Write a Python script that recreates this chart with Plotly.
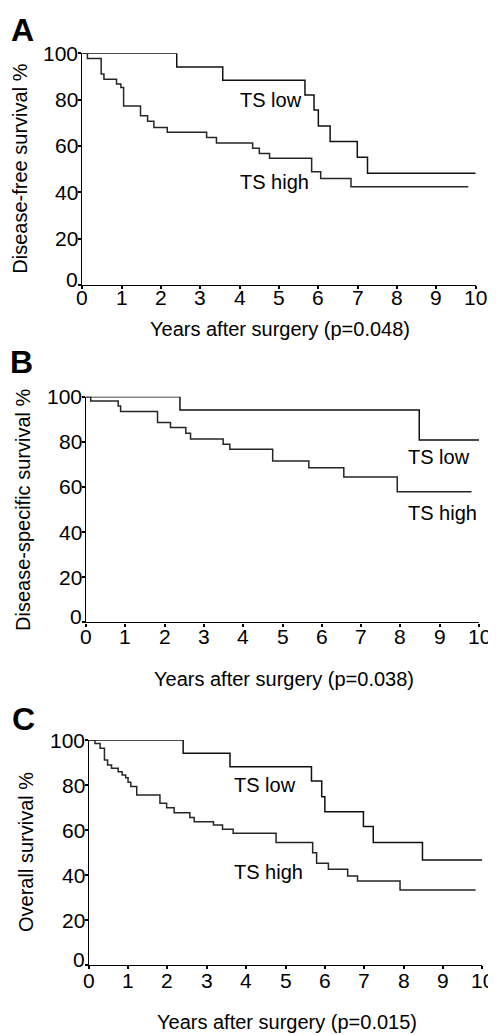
import plotly.graph_objects as go

# The page body keeps its default 8px margin, so the figure starts at (8, 8) in the
# 496x1035 window; positions below are window pixels and are shifted by that offset.
OFF = 8
W, H = 496, 1035

# ---- Data ----
a_low_t = [0, 2.40, 3.57, 5.66, 5.89, 6.00, 6.30, 6.99, 7.25, 10.0]
a_low_s = [100, 94.1, 88.4, 82.0, 75.5, 68.6, 61.9, 55.1, 48.2, 48.2]
a_high_t = [0, 0.13, 0.48, 0.55, 0.87, 0.98, 1.05, 1.48, 1.66, 1.82, 2.16, 3.16, 3.41,
            4.33, 4.50, 4.76, 5.83, 6.06, 6.83, 9.81]
a_high_s = [100, 97.8, 91.1, 88.8, 86.8, 85.2, 77.3, 73.0, 70.7, 68.0, 65.9, 63.7, 61.3,
            59.0, 56.8, 54.7, 48.9, 46.0, 42.4, 42.4]

b_low_t = [0, 2.39, 8.48, 10.0]
b_low_s = [100, 94.1, 80.8, 80.8]
b_high_t = [0, 0.12, 0.82, 0.88, 1.82, 2.15, 2.54, 2.66, 3.49, 3.66, 4.75, 5.67, 6.56, 7.92, 9.81]
b_high_s = [100, 98.1, 95.9, 93.4, 88.6, 86.3, 83.8, 81.2, 78.9, 76.7, 71.5, 68.5, 64.4, 57.9, 57.9]

c_low_t = [0, 2.40, 3.59, 5.66, 5.92, 6.00, 6.98, 7.23, 8.48, 10.0]
c_low_s = [100, 94.1, 88.1, 81.8, 74.8, 68.1, 61.5, 54.4, 46.7, 46.7]
c_high_t = [0, 0.16, 0.29, 0.40, 0.48, 0.58, 0.75, 0.85, 0.94, 1.00, 1.07, 1.22, 1.81, 1.98,
            2.17, 2.57, 2.68, 3.17, 3.40, 3.67, 4.76, 5.69, 5.79, 6.09, 6.58, 6.83, 7.91, 9.83]
c_high_s = [100, 98.5, 96.3, 91.1, 88.9, 87.4, 85.9, 84.4, 83.2, 81.2, 79.3, 75.6, 71.9, 69.9,
            67.7, 65.6, 63.7, 62.2, 60.3, 58.5, 54.4, 49.9, 45.2, 42.5, 39.6, 37.3, 33.3, 33.3]

x_ticks = list(range(0, 11))
y_ticks = [0, 20, 40, 60, 80, 100]

panel_letters = ["A", "B", "C"]
y_titles = ["Disease-free survival %", "Disease-specific survival %", "Overall survival %"]
x_titles = ["Years after surgery (p=0.048)", "Years after surgery (p=0.038)",
            "Years after surgery (p=0.015)"]
group_labels = ["TS low", "TS high"]
label_pos = [((3.97, 80.0), (3.97, 44.6)), ((8.14, 73.4), (8.14, 48.3)), ((3.65, 80.0), (3.65, 41.5))]

# ---- Layout geometry (window pixels) ----
# (x0, x1, y_top(100%), y_bottom(0%))
boxes = [(82.3, 475.7, 53.3, 285.0), (86.0, 479.0, 396.7, 622.3), (88.7, 482.3, 740.0, 965.0)]
letter_xy = [(22.5, 30.5), (21.5, 361.5), (23.5, 719)]
ytitle_x = [20.5, 22.5, 25.5]
xtitle_y = [329, 679, 1022]
xtick_label_y = [297, 636, 980]
ytick_gap = 4.0              # px between axis line and right edge of y tick labels
ytick_label_shift = [6, 0, 0, 0, 0, 0]   # "0" sits a little above the axis corner

FONT = "Liberation Sans, Arial, sans-serif"
TXT = dict(family=FONT, size=20, color="black")
TICK = dict(family=FONT, size=21, color="black")


def px(x):
    return (x - OFF) / W


def py(y):
    return 1 - (y - OFF) / H


series = [
    (a_low_t, a_low_s, a_high_t, a_high_s),
    (b_low_t, b_low_s, b_high_t, b_high_s),
    (c_low_t, c_low_s, c_high_t, c_high_s),
]

fig = go.Figure()
annotations = []
layout = {}
for i, (lt, ls, ht, hs) in enumerate(series):
    sfx = "" if i == 0 else str(i + 1)
    xa, ya = "x" + sfx, "y" + sfx
    fig.add_trace(go.Scatter(x=lt, y=ls, mode="lines", line=dict(shape="hv", color="#111111", width=1.5),
                             xaxis=xa, yaxis=ya, showlegend=False, hoverinfo="skip"))
    fig.add_trace(go.Scatter(x=ht, y=hs, mode="lines", line=dict(shape="hv", color="#262626", width=1.5),
                             xaxis=xa, yaxis=ya, showlegend=False, hoverinfo="skip"))
    x0, x1, yt, yb = boxes[i]
    layout["xaxis" + sfx] = dict(
        domain=[px(x0), px(x1)], range=[0, 10], anchor=ya, tickmode="array", tickvals=x_ticks,
        ticks="outside", ticklen=3, tickwidth=1.5, tickcolor="black", showticklabels=False,
        showline=True, linecolor="black", linewidth=1.4, showgrid=False, zeroline=False,
        fixedrange=True)
    layout["yaxis" + sfx] = dict(
        domain=[py(yb), py(yt)], range=[0, 100], anchor=xa, tickmode="array", tickvals=y_ticks,
        ticks="outside", ticklen=3, tickwidth=1.5, tickcolor="black", showticklabels=False,
        showline=True, linecolor="black", linewidth=1.4, showgrid=False, zeroline=False,
        fixedrange=True)
    # x tick labels (placed through the x axis scale)
    for t in x_ticks:
        annotations.append(dict(text=str(t), x=t, xref=xa, y=py(xtick_label_y[i]), yref="paper",
                                xanchor="center", yanchor="middle", showarrow=False, font=TICK))
    # y tick labels (placed through the y axis scale)
    for t, sh in zip(y_ticks, ytick_label_shift):
        annotations.append(dict(text=str(t), x=px(x0 - ytick_gap + 2), xref="paper", y=t, yref=ya,
                                xanchor="right", yanchor="middle", yshift=sh, showarrow=False,
                                font=TICK))
    # panel letter
    lx, ly = letter_xy[i]
    annotations.append(dict(text="<b>%s</b>" % panel_letters[i], x=px(lx), y=py(ly), xref="paper",
                            yref="paper", xanchor="center", yanchor="middle", showarrow=False,
                            font=dict(family=FONT, size=32, color="black")))
    # y title
    annotations.append(dict(text=y_titles[i], x=px(ytitle_x[i]), y=py((yt + yb) / 2), xref="paper",
                            yref="paper", xanchor="center", yanchor="middle", textangle=-90,
                            showarrow=False, font=TXT))
    # x title
    annotations.append(dict(text=x_titles[i], x=px((x0 + x1) / 2 + 1), y=py(xtitle_y[i]), xref="paper",
                            yref="paper", xanchor="center", yanchor="middle", showarrow=False,
                            font=TXT))
    # group labels
    for (gx, gy), g in zip(label_pos[i], group_labels):
        annotations.append(dict(text=g, x=gx, y=gy, xref=xa, yref=ya, xanchor="left",
                                yanchor="middle", showarrow=False, font=TXT))

fig.update_layout(
    width=W, height=H, margin=dict(l=0, r=0, t=0, b=0),
    paper_bgcolor="white", plot_bgcolor="white",
    annotations=annotations, **layout)

fig.write_html("out.html")
